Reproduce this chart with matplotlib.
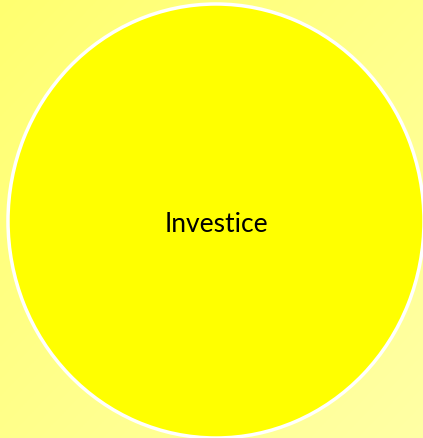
import matplotlib
matplotlib.use("Agg")
import matplotlib.pyplot as plt
import numpy as np

labels = ["Investice"]
values = [1]
colors = ["#FFFF00"]

W, H = 423, 438
fig = plt.figure(figsize=(W/100, H/100), dpi=100)

# background gradient
bg = fig.add_axes([0, 0, 1, 1])
yy, xx = np.mgrid[0:1:200j, 0:1:200j]
t = (xx + yy) / 2.0
c0 = np.array([255, 255, 112]) / 255.0
c1 = np.array([255, 255, 165]) / 255.0
img = c0[None, None, :] * (1 - t[..., None]) + c1[None, None, :] * t[..., None]
bg.imshow(img, extent=[0, 1, 0, 1], origin="upper", aspect="auto")
bg.axis("off")

# pie axes: ellipse from x 8..424, y 4..438 (pixels from top)
cx, cy = 216, 221
rx, ry = 208, 217
ax = fig.add_axes([(cx - rx) / W, 1 - (cy + ry) / H, 2 * rx / W, 2 * ry / H])
ax.pie(values, colors=colors, startangle=90,
       wedgeprops=dict(edgecolor="white", linewidth=2.5))
ax.set_aspect("auto")
ax.set_xlim(-1, 1)
ax.set_ylim(-1, 1)
ax.axis("off")
ax.text(0, -0.015, labels[0], ha="center", va="center", fontsize=19,
        family=["Lato", "DejaVu Sans"], color="black")

fig.savefig("out.png", dpi=100)
